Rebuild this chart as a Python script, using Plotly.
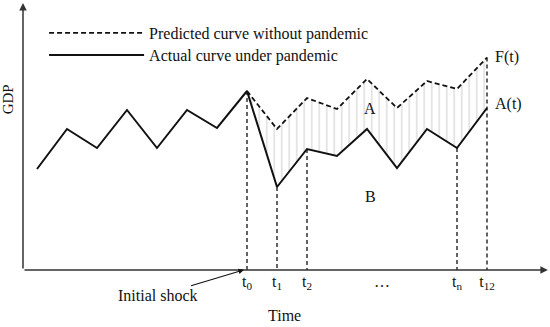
import numpy as np
import plotly.graph_objects as go

# ---- data (time index: t0 = 0) ----
t_all = [-7, -6, -5, -4, -3, -2, -1, 0, 1, 2, 3, 4, 5, 6, 7, 8]
actual = [10.1, 14.1, 12.2, 16.0, 12.2, 16.0, 14.2, 17.9, 8.3, 12.1, 11.4, 14.1, 10.2, 14.1, 12.2, 16.2]
t_post = [0, 1, 2, 3, 4, 5, 6, 7, 8]
predicted = [17.9, 14.1, 17.2, 16.1, 19.1, 16.2, 18.9, 18.1, 21.25]
actual_post = actual[7:]

tick_vals = [0, 1, 2, 4.5, 7, 8]
tick_text = ["t<sub>0</sub>", "t<sub>1</sub>", "t<sub>2</sub>", "…", "t<sub>n</sub>", "t<sub>12</sub>"]

X0, X1 = -7.4667, 10.1
Y0, Y1 = 0, 27.0
FONT = "Liberation Serif, Times New Roman, serif"
INK = "#111111"

fig = go.Figure()

# hatch area between curves
fig.add_trace(go.Scatter(x=t_post, y=actual_post, mode="lines", line=dict(width=0),
                         showlegend=False, hoverinfo="skip"))
fig.add_trace(go.Scatter(x=t_post, y=predicted, mode="lines", line=dict(width=0),
                         fill="tonexty", fillcolor="white",
                         fillpattern=dict(shape="|", size=7.5, solidity=0.14,
                                          fgcolor="#a0a0a0", bgcolor="white"),
                         showlegend=False, hoverinfo="skip"))

# vertical dashed guides
guide_idx = [(0, "pred"), (1, "act"), (2, "act"), (7, "act"), (8, "pred")]
gx, gy = [], []
for i, src in guide_idx:
    top = predicted[i] if src == "pred" else actual_post[i]
    gx += [t_post[i], t_post[i], None]
    gy += [top, 0, None]
fig.add_trace(go.Scatter(x=gx, y=gy, mode="lines",
                         line=dict(color=INK, width=1.3, dash="4px,3px"),
                         showlegend=False, hoverinfo="skip"))

# curves
fig.add_trace(go.Scatter(x=t_post, y=predicted, mode="lines",
                         name="Predicted curve without pandemic", legend="legend",
                         line=dict(color=INK, width=1.8, dash="5px,3px")))
fig.add_trace(go.Scatter(x=t_all, y=actual, mode="lines",
                         name="Actual curve under pandemic", legend="legend2",
                         line=dict(color=INK, width=2)))

ann = []
# axes with arrows
ann.append(dict(x=10.03, y=0, ax=X0, ay=0, xref="x", yref="y", axref="x", ayref="y",
                showarrow=True, arrowhead=2, arrowsize=1, arrowwidth=1.5, arrowcolor="#333", text=""))
ann.append(dict(x=X0, y=26.7, ax=X0, ay=0, xref="x", yref="y", axref="x", ayref="y",
                showarrow=True, arrowhead=2, arrowsize=1, arrowwidth=1.5, arrowcolor="#333", text=""))


def lab(text, x, y, size=16, xref="x", yref="y", **kw):
    d = dict(text=text, x=x, y=y, xref=xref, yref=yref, showarrow=False,
             xanchor="center", yanchor="middle",
             font=dict(family=FONT, size=size, color=INK))
    d.update(kw)
    ann.append(d)


lab("A", 4.1, 16.2)
lab("B", 4.1, 7.4)
lab("F(t)", 8.67, 21.3)
lab("A(t)", 8.7, 16.6)
lab("Time", 0.4953, -0.170, xref="paper", yref="paper")
lab("GDP", -0.028, 0.633, size=15, xref="paper", yref="paper", textangle=-90)
ann.append(dict(text="Initial shock", x=-0.1, y=0.02, xref="x", yref="y",
                ax=-86, ay=26, showarrow=True, arrowhead=2, arrowsize=1,
                arrowwidth=1.1, arrowcolor=INK,
                font=dict(family=FONT, size=16, color=INK)))

leg_common = dict(xanchor="left", yanchor="top", bgcolor="rgba(0,0,0,0)", itemwidth=95,
                  font=dict(family=FONT, size=16, color=INK))

fig.update_layout(
    width=550, height=327,
    margin=dict(l=23, r=0, t=0, b=57),
    paper_bgcolor="white", plot_bgcolor="white",
    font=dict(family=FONT, size=16, color=INK),
    xaxis=dict(range=[X0, X1], showgrid=False, zeroline=False, showline=False,
               tickvals=tick_vals, ticktext=tick_text, ticks="",
               tickfont=dict(size=16, family=FONT, color=INK)),
    yaxis=dict(range=[Y0, Y1], showgrid=False, zeroline=False, showline=False,
               showticklabels=False, ticks=""),
    showlegend=True,
    legend=dict(x=0.04, y=0.9407, **leg_common),
    legend2=dict(x=0.04, y=0.8593, **leg_common),
    annotations=ann,
)

fig.write_html("out.html", config={"displayModeBar": False},
               post_script="document.body.style.margin='0';")
